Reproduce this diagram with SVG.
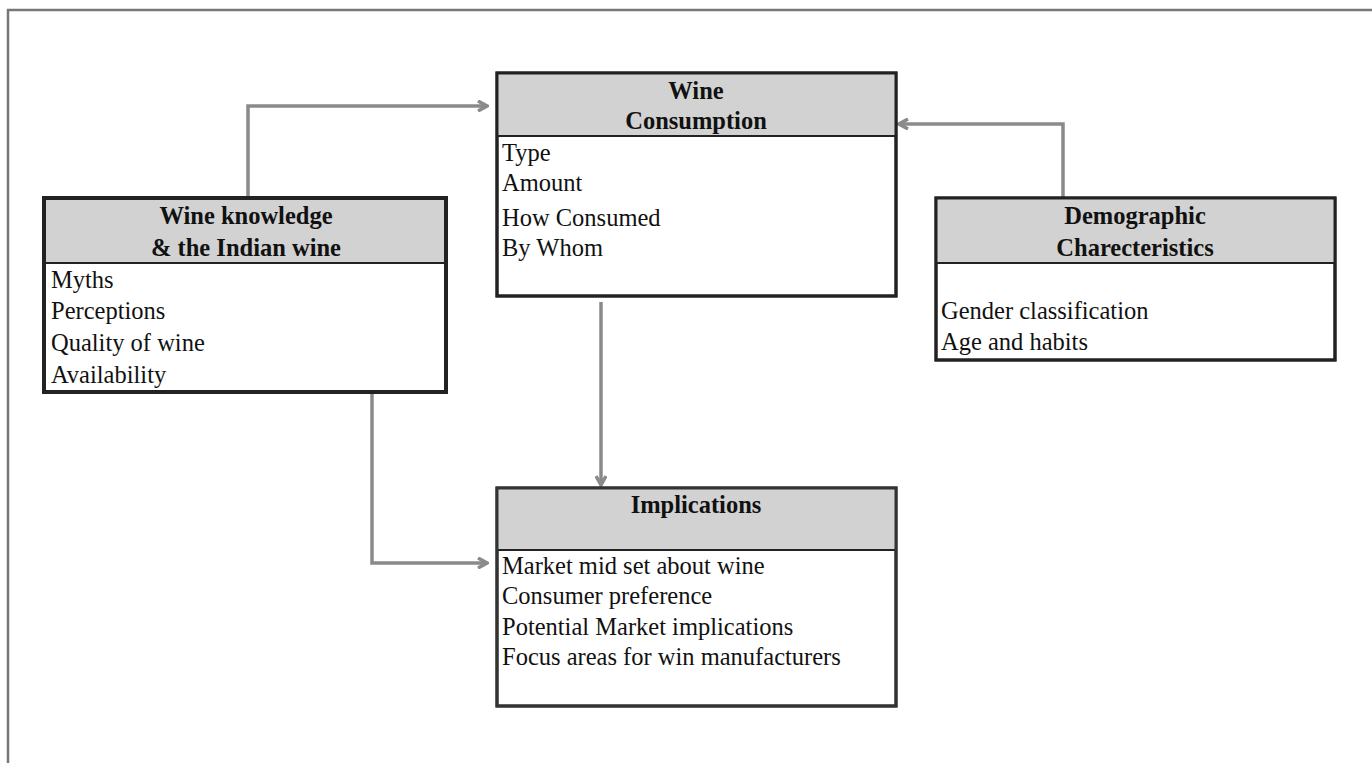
<svg xmlns="http://www.w3.org/2000/svg" width="1372" height="763" viewBox="0 0 1372 763">
<style>
.box{fill:#fff;stroke:#222;stroke-width:3}
.hd{fill:#d2d2d2;stroke:#222;stroke-width:2}
.t{font-family:"Liberation Serif",serif;font-size:24.5px;fill:#111}
.b{font-weight:bold;text-anchor:middle;font-size:24.5px}
.c{fill:none;stroke:#8a8a8a;stroke-width:3.5}
</style>
<defs>
<marker id="ah" markerWidth="12" markerHeight="12" refX="10" refY="6" orient="auto" markerUnits="userSpaceOnUse">
<path d="M1,1 L10,6 L1,11" fill="none" stroke="#8a8a8a" stroke-width="3.5"/>
</marker>
</defs>
<rect x="0" y="0" width="1372" height="763" fill="#fff"/>
<path d="M8,770 V10 H1380" fill="none" stroke="#777" stroke-width="2.5"/>
<g id="connectors">
<path class="c" d="M248,198 V106 H487" marker-end="url(#ah)"/>
<path class="c" d="M1063,198 V124 H899" marker-end="url(#ah)"/>
<path class="c" d="M601,302 V485" marker-end="url(#ah)"/>
<path class="c" d="M372,392 V563 H487" marker-end="url(#ah)"/>
</g>
<g id="consumption">
<rect class="box" x="497" y="73" width="399" height="223"/>
<rect class="hd" x="497" y="73" width="399" height="63" fill="#cacaca"/>
<rect x="497" y="73" width="399" height="223" fill="none" stroke="#222" stroke-width="3"/>
<text class="t b" x="696" y="99">Wine</text>
<text class="t b" x="696" y="129">Consumption</text>
<text class="t" x="502" y="161">Type</text>
<text class="t" x="502" y="191">Amount</text>
<text class="t" x="502" y="226">How Consumed</text>
<text class="t" x="502" y="256">By Whom</text>
</g>
<g id="knowledge">
<rect class="box" x="44" y="198" width="402" height="194" stroke-width="4"/>
<rect class="hd" x="44" y="198" width="402" height="65"/>
<rect x="44" y="198" width="402" height="194" fill="none" stroke="#222" stroke-width="4"/>
<text class="t b" x="246" y="224">Wine knowledge</text>
<text class="t b" x="246" y="256">&amp; the Indian wine</text>
<text class="t" x="51" y="288">Myths</text>
<text class="t" x="51" y="319">Perceptions</text>
<text class="t" x="51" y="351">Quality of wine</text>
<text class="t" x="51" y="383">Availability</text>
</g>
<g id="demographic">
<rect class="box" x="936" y="198" width="399" height="162"/>
<rect class="hd" x="936" y="198" width="399" height="65"/>
<rect x="936" y="198" width="399" height="162" fill="none" stroke="#222" stroke-width="3"/>
<text class="t b" x="1135" y="224">Demographic</text>
<text class="t b" x="1135" y="256">Charecteristics</text>
<text class="t" x="941" y="319">Gender classification</text>
<text class="t" x="941" y="350">Age and habits</text>
</g>
<g id="implications">
<rect class="box" x="497" y="488" width="399" height="218"/>
<rect class="hd" x="497" y="488" width="399" height="62" fill="#dcdcdc"/>
<rect x="497" y="488" width="399" height="218" fill="none" stroke="#333" stroke-width="3"/>
<text class="t b" x="696" y="513">Implications</text>
<text class="t" x="502" y="574">Market mid set about wine</text>
<text class="t" x="502" y="604">Consumer preference</text>
<text class="t" x="502" y="635">Potential Market implications</text>
<text class="t" x="502" y="665">Focus areas for win manufacturers</text>
</g>
</svg>
